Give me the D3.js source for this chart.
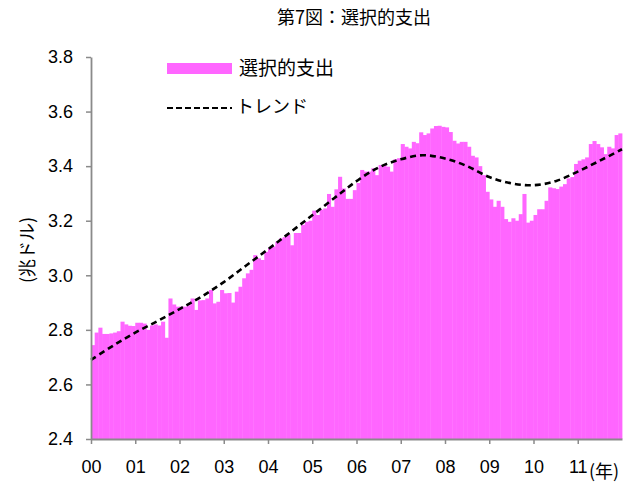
<!DOCTYPE html>
<html>
<head>
<meta charset="utf-8">
<script src="https://cdn.jsdelivr.net/npm/d3@7"></script>
<style>
  body { margin: 0; background: #fff; }
  svg { display: block; }
  .jp { font-family: "Noto Sans CJK JP", "Noto Sans", sans-serif; }
  .num { font-family: "Liberation Sans", Arial, sans-serif; }
</style>
</head>
<body>
<svg id="chart" width="636" height="482"></svg>
<script>
// Year labels on the time axis (2000–2011)
const yearLabels = ["00","01","02","03","04","05","06","07","08","09","10","11"];

// Monthly selective spending, trillion dollars (Jan 2000 – Dec 2011)
const spending = [
  2.744, 2.790, 2.808, 2.785, 2.785, 2.787, 2.790, 2.795, 2.830, 2.820, 2.815, 2.814,
  2.826, 2.826, 2.823, 2.800, 2.816, 2.820, 2.816, 2.830, 2.771, 2.915, 2.893, 2.885,
  2.885, 2.885, 2.890, 2.915, 2.873, 2.908, 2.909, 2.915, 2.946, 2.897, 2.903, 2.946,
  2.934, 2.935, 2.900, 2.940, 2.958, 2.989, 3.007, 3.020, 3.074, 3.062, 3.056, 3.086,
  3.100, 3.105, 3.123, 3.135, 3.140, 3.150, 3.110, 3.155, 3.155, 3.185, 3.196, 3.200,
  3.237, 3.221, 3.240, 3.245, 3.298, 3.251, 3.315, 3.361, 3.318, 3.280, 3.280, 3.312,
  3.338, 3.386, 3.380, 3.380, 3.392, 3.367, 3.404, 3.404, 3.398, 3.380, 3.425, 3.429,
  3.481, 3.471, 3.465, 3.489, 3.484, 3.524, 3.514, 3.520, 3.538, 3.547, 3.548, 3.544,
  3.542, 3.525, 3.493, 3.483, 3.489, 3.489, 3.471, 3.438, 3.432, 3.400, 3.367, 3.306,
  3.278, 3.251, 3.273, 3.251, 3.206, 3.196, 3.209, 3.200, 3.224, 3.298, 3.193, 3.200,
  3.221, 3.242, 3.242, 3.273, 3.322, 3.319, 3.316, 3.325, 3.334, 3.355, 3.360, 3.408,
  3.420, 3.425, 3.432, 3.481, 3.492, 3.481, 3.469, 3.444, 3.471, 3.465, 3.514, 3.520
];

// Trend, sampled every half year (month index from Jan 2000)
const trendMonth = [0, 6, 12, 18, 24, 30, 36, 42, 48, 54, 60, 66, 72,
                    78, 84, 90, 96, 102, 108, 114, 120, 126, 132, 138, 144];
const trendValue = [2.690, 2.742, 2.790, 2.832, 2.876, 2.922, 2.975, 3.035, 3.095,
                    3.157, 3.220, 3.283, 3.345, 3.395, 3.425, 3.440, 3.428, 3.400,
                    3.360, 3.337, 3.330, 3.345, 3.380, 3.420, 3.462];

const yTicks = [2.4, 2.6, 2.8, 3.0, 3.2, 3.4, 3.6, 3.8];

const barColor = "#FF66FF";
const axisColor = "#8a8a8a";

const svg = d3.select("#chart");
const plot = { left: 91, right: 622, top: 57, bottom: 439 };

const x = d3.scaleLinear().domain([0, spending.length]).range([plot.left, plot.right]);
const y = d3.scaleLinear().domain([2.4, 3.8]).range([plot.bottom, plot.top]);

// Bars
svg.append("g")
  .selectAll("rect")
  .data(spending)
  .join("rect")
  .attr("x", (d, i) => x(i))
  .attr("width", (d, i) => x(i + 1) - x(i) + 0.4)
  .attr("y", d => y(d))
  .attr("height", d => y(2.4) - y(d))
  .attr("fill", barColor);

// Trend line
const trend = trendMonth.map((m, i) => [m, trendValue[i]]);
svg.append("path")
  .datum(trend)
  .attr("fill", "none")
  .attr("stroke", "#000")
  .attr("stroke-width", 2.6)
  .attr("stroke-dasharray", "6,4")
  .attr("d", d3.line().x(d => x(d[0])).y(d => y(d[1])).curve(d3.curveCatmullRom.alpha(0.5)));

// Y axis
const yAxis = svg.append("g")
  .attr("transform", `translate(${plot.left},0)`)
  .call(d3.axisLeft(y).tickValues(yTicks).tickFormat(d3.format(".1f"))
    .tickSize(5).tickSizeOuter(0).tickPadding(13));
yAxis.select(".domain").attr("stroke", axisColor).attr("stroke-width", 1.8);
yAxis.selectAll(".tick line").attr("stroke", axisColor).attr("stroke-width", 1.5);
yAxis.selectAll(".tick text")
  .attr("class", "num").attr("font-size", 18).attr("fill", "#000");

// X axis
const xAxis = svg.append("g")
  .attr("transform", `translate(0,${plot.bottom})`)
  .call(d3.axisBottom(x).tickValues(yearLabels.map((_, i) => i * 12))
    .tickFormat((d, i) => yearLabels[i]).tickSize(5).tickSizeOuter(0).tickPadding(16));
xAxis.select(".domain").attr("stroke", axisColor).attr("stroke-width", 1.8);
xAxis.selectAll(".tick line").attr("stroke", axisColor).attr("stroke-width", 1.5);
xAxis.selectAll(".tick text")
  .attr("class", "num").attr("font-size", 18).attr("fill", "#000");

// Title
svg.append("text")
  .attr("class", "jp")
  .attr("x", 354).attr("y", 24)
  .attr("text-anchor", "middle")
  .attr("font-size", 18)
  .text("第7図：選択的支出");

// Axis titles
svg.append("text")
  .attr("class", "jp")
  .attr("transform", "translate(34,250) rotate(-90)")
  .attr("text-anchor", "middle")
  .attr("font-size", 18)
  .text("(兆ドル)");

svg.append("text")
  .attr("class", "jp")
  .attr("x", 589).attr("y", 478)
  .attr("font-size", 18)
  .text("(年)");

// Legend
const legend = svg.append("g");
legend.append("rect")
  .attr("x", 167).attr("y", 63).attr("width", 65).attr("height", 11)
  .attr("fill", barColor);
legend.append("text")
  .attr("class", "jp")
  .attr("x", 239).attr("y", 75)
  .attr("font-size", 19)
  .text("選択的支出");
legend.append("line")
  .attr("x1", 167).attr("x2", 232).attr("y1", 108).attr("y2", 108)
  .attr("stroke", "#000").attr("stroke-width", 2.2)
  .attr("stroke-dasharray", "6,3");
legend.append("text")
  .attr("class", "jp")
  .attr("x", 236).attr("y", 113)
  .attr("font-size", 18)
  .text("トレンド");
</script>
</body>
</html>
